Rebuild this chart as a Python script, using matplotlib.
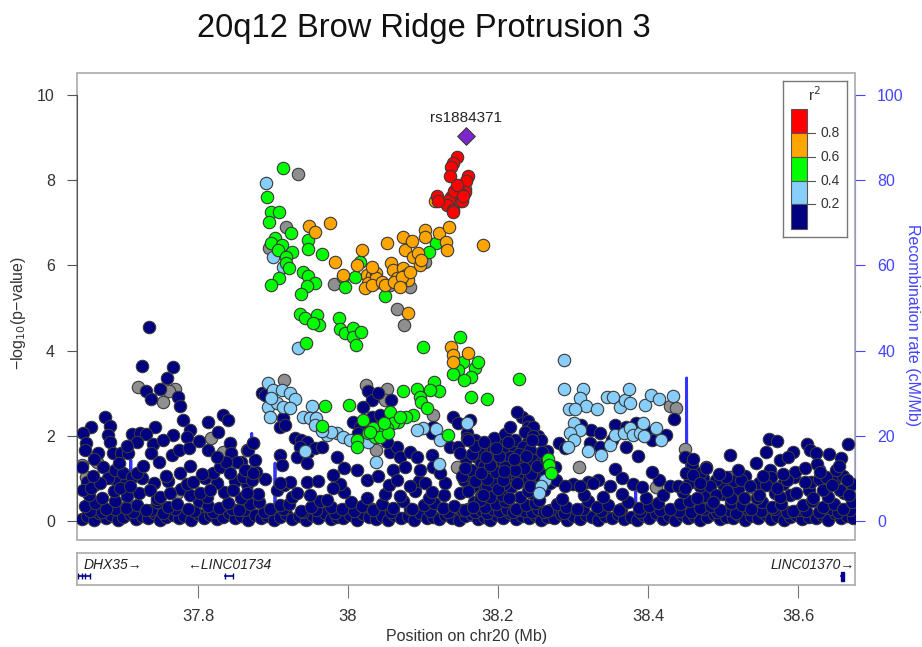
import matplotlib
matplotlib.use('Agg')
import matplotlib.pyplot as plt
from matplotlib.patches import Rectangle
import numpy as np

plt.rcParams['font.family'] = ['Liberation Sans', 'DejaVu Sans']

title = '20q12 Brow Ridge Protrusion 3'
lead_snp = 'rs1884371'
lead_pos, lead_logp = 38.1573, 9.04

# r2 > 0.8
red_pts = [(38.146, 8.54), (38.140, 8.40), (38.138, 8.32), (38.136, 8.10), (38.160, 8.10),
           (38.158, 7.97), (38.156, 7.73), (38.149, 7.71), (38.143, 7.69), (38.138, 7.61),
           (38.135, 7.54), (38.132, 7.42), (38.140, 7.30), (38.152, 7.52), (38.119, 7.63),
           (38.142, 7.75), (38.120, 7.51), (38.140, 7.26), (38.146, 7.88), (38.154, 7.62)]

# 0.6 - 0.8
orange_pts = [(37.948, 6.92), (37.956, 6.79), (37.976, 7.00), (37.983, 6.07), (38.012, 6.01),
              (38.019, 6.36), (37.994, 5.77), (38.025, 5.77), (38.032, 5.75), (38.038, 5.81),
              (38.027, 5.58), (38.023, 5.46), (38.036, 5.58), (38.052, 6.53), (38.058, 6.05),
              (38.060, 5.89), (38.065, 5.70), (38.074, 6.66), (38.076, 6.36), (38.085, 6.58),
              (38.087, 6.20), (38.074, 5.93), (38.078, 5.77), (38.080, 5.66), (38.069, 5.54),
              (38.094, 6.28), (38.096, 6.01), (38.098, 6.13), (38.103, 6.83), (38.103, 6.67),
              (38.122, 6.75), (38.135, 6.91), (38.131, 6.56), (38.132, 6.36), (38.116, 7.50),
              (38.180, 6.48), (38.080, 4.88), (38.038, 5.70), (38.032, 5.54), (38.032, 5.97),
              (38.138, 4.09), (38.140, 3.90), (38.140, 3.74), (38.160, 3.94), (38.045, 5.62),
              (38.050, 5.55), (38.062, 5.60), (38.072, 5.72), (38.083, 5.84), (38.070, 5.50),
              (38.156, 7.80)]

# 0.4 - 0.6
green_pts = [(37.914, 8.28), (37.892, 7.61), (37.898, 7.26), (37.908, 7.26), (37.895, 7.03),
             (37.924, 6.77), (37.903, 6.64), (37.898, 6.52), (37.912, 6.48), (37.907, 6.36),
             (37.926, 6.32), (37.918, 6.20), (37.918, 6.05), (37.922, 5.93), (37.908, 5.70),
             (37.897, 5.54), (37.947, 6.60), (37.947, 6.38), (37.965, 6.27), (37.940, 5.85),
             (37.947, 5.75), (37.956, 5.58), (37.945, 5.52), (37.938, 5.32), (37.994, 5.73),
             (38.009, 5.73), (37.996, 5.50), (38.016, 6.09), (38.049, 5.27), (38.118, 6.52),
             (38.108, 6.32), (37.936, 4.86), (37.943, 4.76), (37.959, 4.84), (37.962, 4.60),
             (37.954, 4.64), (37.988, 4.76), (37.989, 4.50), (37.996, 4.41), (38.007, 4.52),
             (38.007, 4.33), (38.017, 4.44), (38.011, 4.13), (37.944, 4.17), (38.100, 4.09),
             (38.149, 4.31), (38.153, 3.74), (38.147, 3.54), (38.140, 3.45), (38.169, 3.58),
             (38.174, 3.74), (38.164, 3.37), (38.155, 3.31), (38.164, 2.92), (38.186, 2.86),
             (38.115, 3.27), (38.122, 3.06), (38.110, 3.08), (38.074, 3.04), (38.092, 3.09),
             (38.096, 2.92), (38.097, 2.80), (38.106, 2.65), (38.087, 2.49), (38.078, 2.43),
             (38.067, 2.33), (38.056, 2.57), (38.060, 2.31), (38.052, 2.18), (38.043, 2.21),
             (38.034, 2.18), (38.027, 2.06), (38.036, 1.98), (38.043, 1.98), (38.054, 2.06),
             (38.020, 2.37), (38.002, 2.72), (37.969, 2.70), (37.966, 2.23), (38.012, 1.90),
             (38.012, 1.74), (38.134, 2.02), (38.228, 3.33), (38.267, 1.45), (38.268, 1.31),
             (38.271, 1.12), (38.030, 2.10), (38.048, 2.30), (38.070, 2.45)]

# 0.2 - 0.4
lightblue_pts = [(37.891, 7.94), (37.900, 6.19), (37.914, 5.96), (37.934, 4.05), (37.894, 3.23),
                 (37.900, 3.08), (37.912, 3.08), (37.923, 3.00), (37.929, 2.86), (37.894, 2.68),
                 (37.905, 2.76), (37.914, 2.68), (37.923, 2.65), (37.896, 2.45), (37.952, 2.70),
                 (37.940, 2.45), (37.949, 2.41), (37.958, 2.41), (37.956, 2.25), (37.972, 2.02),
                 (37.985, 2.06), (37.994, 1.98), (38.003, 1.90), (38.014, 1.90), (38.027, 1.86),
                 (37.943, 1.65), (38.038, 1.39), (38.100, 2.18), (38.118, 2.15), (38.123, 1.90),
                 (38.122, 1.34), (38.159, 2.31), (38.092, 2.14), (37.978, 2.10), (37.965, 2.12),
                 (37.898, 2.88), (38.288, 3.78), (38.288, 3.09), (38.313, 3.09), (38.309, 2.88),
                 (38.317, 2.70), (38.295, 2.62), (38.303, 2.62), (38.332, 2.62), (38.345, 2.90),
                 (38.353, 2.92), (38.363, 2.67), (38.369, 2.84), (38.375, 3.11), (38.376, 2.76),
                 (38.396, 2.72), (38.404, 2.96), (38.415, 2.86), (38.433, 2.93), (38.301, 2.29),
                 (38.309, 2.14), (38.296, 2.06), (38.302, 1.90), (38.294, 1.74), (38.320, 1.65),
                 (38.338, 1.55), (38.349, 1.78), (38.356, 2.02), (38.368, 2.06), (38.376, 2.18),
                 (38.380, 2.02), (38.389, 2.06), (38.393, 2.29), (38.395, 2.00), (38.411, 2.18),
                 (38.417, 1.90), (38.263, 0.96), (38.258, 0.81), (38.255, 0.66)]

# r2 unknown
gray_pts = [(37.934, 8.15), (37.918, 6.89), (37.895, 6.40), (37.981, 5.56), (38.056, 5.54),
            (38.083, 5.50), (38.103, 6.09), (38.065, 4.97), (38.075, 4.60), (38.149, 7.50),
            (37.915, 3.31), (38.024, 3.19), (38.052, 3.11), (38.049, 2.84), (38.037, 1.67),
            (38.145, 1.27), (38.114, 2.49), (37.720, 3.15), (37.769, 3.11), (37.754, 2.80),
            (37.818, 1.94), (37.834, 1.63), (37.665, 1.39), (37.645, 1.31), (37.772, 0.65),
            (37.651, 1.04), (37.865, 1.67), (38.430, 2.70), (38.438, 2.65), (38.449, 1.68),
            (38.308, 1.27), (38.411, 0.79), (38.256, 1.59), (38.509, 1.04), (38.496, 0.96),
            (38.534, 0.53), (37.762, 3.05), (37.700, 0.30), (37.980, 0.20)]

# r2 < 0.2
navy_pts = [
    # left region
    (37.735, 4.56), (37.725, 3.64), (37.767, 3.62), (37.759, 3.35), (37.731, 3.04),
    (37.750, 3.11), (37.738, 2.86), (37.774, 2.92), (37.776, 2.70), (37.780, 2.37),
    (37.676, 2.45), (37.683, 2.23), (37.657, 2.21), (37.647, 2.06), (37.743, 2.21),
    (37.712, 2.04), (37.723, 2.06), (37.731, 2.04), (37.767, 2.02), (37.789, 2.14),
    (37.785, 1.98), (37.814, 2.33), (37.834, 2.49), (37.840, 2.37), (37.827, 2.10),
    (37.843, 1.82), (37.858, 1.39), (37.874, 1.82), (37.680, 2.02), (37.683, 1.86),
    (37.651, 1.82), (37.649, 1.67), (37.667, 1.59), (37.687, 1.59), (37.698, 1.59),
    (37.707, 1.59), (37.719, 1.86), (37.740, 1.81), (37.753, 1.90), (37.737, 1.59),
    (37.748, 1.39), (37.765, 1.55), (37.775, 1.67), (37.788, 1.71), (37.802, 1.88),
    (37.814, 1.67), (37.844, 1.59), (37.852, 1.39), (37.645, 1.27), (37.674, 1.27),
    (37.680, 1.00), (37.689, 1.20), (37.700, 1.12), (37.712, 1.04), (37.719, 1.13),
    (37.776, 1.12), (37.794, 0.92), (37.820, 1.12), (37.829, 1.27), (37.838, 1.39),
    (37.843, 1.12), (37.860, 1.04), (37.872, 0.96), (37.878, 1.16), (37.647, 0.73),
    (37.658, 0.77), (37.669, 0.89), (37.696, 0.77), (37.709, 0.81), (37.736, 0.73),
    (37.749, 0.57), (37.763, 0.65), (37.803, 0.65), (37.816, 0.73), (37.847, 0.73),
    (37.865, 0.65), (37.727, 1.30), (37.757, 1.05), (37.790, 1.30), (37.805, 1.10),
    (37.662, 1.45), (37.695, 1.35), (37.706, 1.75), (37.660, 1.05), (37.826, 1.50),
    # middle region
    (37.867, 1.67), (37.874, 1.82), (37.876, 1.43), (37.863, 1.20), (37.874, 1.12),
    (37.885, 3.01), (37.889, 2.96), (37.914, 2.41), (37.909, 2.21), (37.916, 2.25),
    (37.929, 1.94), (37.938, 1.90), (37.945, 1.86), (37.936, 1.74), (37.947, 1.63),
    (37.932, 1.51), (37.945, 1.35), (37.909, 1.55), (37.912, 1.31), (37.923, 0.92),
    (37.909, 0.89), (37.932, 0.65), (37.956, 1.71), (37.965, 1.74), (37.985, 1.51),
    (37.980, 1.08), (37.980, 0.77), (38.012, 1.20), (38.027, 3.04), (38.032, 2.84),
    (38.040, 3.00), (38.007, 2.33), (38.016, 2.21), (38.032, 2.45), (38.043, 2.49),
    (38.056, 1.63), (38.065, 1.74), (38.069, 1.51), (38.083, 1.63), (38.092, 1.51),
    (38.076, 1.27), (38.060, 1.20), (38.096, 1.20), (38.112, 1.55), (38.114, 1.27),
    (38.123, 1.12), (38.103, 0.89), (38.065, 0.96), (38.083, 0.81), (38.112, 0.69),
    (38.136, 1.74), (38.140, 2.45), (38.147, 2.29), (38.163, 2.37), (38.159, 2.06),
    (38.159, 1.94), (38.147, 1.74), (38.169, 1.90), (38.185, 1.74), (38.194, 1.67),
    (38.114, 2.21), (38.112, 2.06), (38.172, 1.51), (38.178, 1.35), (38.187, 1.20),
    (38.196, 1.35), (38.176, 1.04), (38.167, 0.81), (38.185, 0.81), (38.196, 0.92),
    (38.176, 0.49), (38.189, 0.57), (38.167, 0.34), (38.014, 2.06), (38.052, 1.86),
    (38.058, 2.84), (38.020, 2.68), (37.995, 1.25), (38.040, 1.05), (37.960, 0.95),
    # dense block 38.15 - 38.27
    (38.152, 1.05), (38.158, 1.45), (38.164, 1.20), (38.170, 0.95), (38.175, 1.62),
    (38.181, 1.30), (38.186, 0.98), (38.192, 1.50), (38.198, 1.15), (38.203, 1.78),
    (38.206, 1.40), (38.212, 1.10), (38.218, 1.70), (38.220, 1.30), (38.226, 1.05),
    (38.230, 1.60), (38.236, 1.35), (38.240, 1.85), (38.244, 1.10), (38.250, 1.55),
    (38.254, 2.00), (38.262, 1.20), (38.266, 1.65), (38.270, 0.90), (38.160, 0.70),
    (38.200, 0.75), (38.240, 0.70), (38.195, 1.95), (38.210, 2.05), (38.150, 1.60),
    (38.232, 2.45), (38.226, 2.55), (38.240, 2.35), (38.240, 2.21), (38.247, 2.21),
    (38.236, 2.10), (38.247, 2.00), (38.258, 1.90), (38.223, 1.90), (38.233, 1.74),
    (38.243, 1.67), (38.207, 1.63), (38.216, 1.51), (38.229, 1.43), (38.247, 1.43),
    (38.209, 1.27), (38.235, 1.24), (38.223, 1.20), (38.258, 1.35), (38.207, 0.96),
    (38.225, 0.89), (38.243, 0.81), (38.180, 0.60), (38.215, 0.55), (38.255, 0.50),
    (38.156, 1.25), (38.166, 1.58), (38.178, 1.12), (38.190, 1.32), (38.201, 1.52),
    (38.214, 1.85), (38.228, 1.58), (38.238, 1.52), (38.252, 1.28), (38.264, 1.45),
    (38.170, 1.75), (38.184, 1.50), (38.197, 1.72), (38.208, 1.18), (38.221, 1.45),
    (38.246, 1.90), (38.259, 1.62), (38.182, 1.85), (38.160, 1.90), (38.216, 2.20),
    # right-middle region
    (38.276, 1.27), (38.282, 1.82), (38.289, 1.71), (38.311, 2.25), (38.324, 2.14),
    (38.336, 2.06), (38.356, 2.25), (38.371, 2.21), (38.323, 1.82), (38.336, 1.74),
    (38.352, 1.90), (38.371, 1.74), (38.387, 1.53), (38.406, 1.90), (38.424, 2.02),
    (38.435, 2.39), (38.405, 1.16), (38.356, 1.21), (38.365, 1.00), (38.334, 0.96),
    (38.327, 0.89), (38.392, 0.79), (38.278, 0.96), (38.289, 0.81), (38.309, 0.81),
    (38.349, 0.81), (38.429, 0.81), (38.440, 0.81), (38.398, 2.12), (38.384, 2.30),
    # right region
    (38.449, 1.51), (38.459, 1.31), (38.469, 1.12), (38.478, 1.27), (38.451, 1.12),
    (38.469, 0.81), (38.491, 0.96), (38.562, 1.92), (38.572, 1.88), (38.612, 1.81),
    (38.667, 1.81), (38.510, 1.55), (38.557, 1.63), (38.593, 1.63), (38.616, 1.67),
    (38.624, 1.60), (38.641, 1.57), (38.657, 1.47), (38.460, 1.45), (38.478, 1.24),
    (38.544, 1.35), (38.576, 1.43), (38.587, 1.50), (38.625, 1.34), (38.563, 1.20),
    (38.596, 1.16), (38.564, 1.04), (38.524, 0.96), (38.504, 1.04), (38.483, 0.81),
    (38.460, 1.08), (38.449, 0.77), (38.536, 0.81), (38.558, 0.85), (38.585, 0.96),
    (38.609, 0.92), (38.638, 1.04), (38.651, 1.20), (38.665, 0.96), (38.633, 0.73),
    (38.656, 0.73), (38.576, 0.57), (38.511, 0.53), (38.491, 0.61), (38.465, 0.55),
    (38.487, 0.45), (38.505, 0.70), (38.528, 0.55), (38.548, 0.62), (38.572, 0.78),
    (38.598, 0.66), (38.620, 0.55), (38.645, 0.85), (38.668, 0.60), (38.655, 1.30),
    (38.630, 1.15), (38.610, 1.25), (38.580, 1.10), (38.553, 1.05), (38.520, 1.20),
    (38.495, 1.10), (38.470, 0.90),
]

# baseline band rows
navy_low_pos = [37.645, 37.652, 37.661, 37.668, 37.677, 37.684, 37.693, 37.700, 37.709, 37.717,
                37.726, 37.733, 37.742, 37.750, 37.758, 37.767, 37.775, 37.782, 37.791, 37.800,
                37.808, 37.816, 37.825, 37.834, 37.842, 37.850, 37.858, 37.867, 37.876, 37.884,
                37.892, 37.901, 37.910, 37.918, 37.926, 37.935, 37.944, 37.952, 37.960, 37.969,
                37.978, 37.986, 37.994, 38.003, 38.012, 38.020, 38.028, 38.037, 38.046, 38.054,
                38.062, 38.071, 38.080, 38.088, 38.096, 38.105, 38.114, 38.122, 38.130, 38.139,
                38.148, 38.156, 38.164, 38.173, 38.182, 38.190, 38.198, 38.207, 38.216, 38.224,
                38.232, 38.241, 38.250, 38.258, 38.266, 38.275, 38.284, 38.292, 38.300, 38.309,
                38.318, 38.326, 38.334, 38.343, 38.352, 38.360, 38.368, 38.377, 38.386, 38.394,
                38.402, 38.411, 38.420, 38.428, 38.436, 38.445, 38.454, 38.462, 38.470, 38.479,
                38.488, 38.496, 38.504, 38.513, 38.522, 38.530, 38.538, 38.547, 38.556, 38.564,
                38.572, 38.581, 38.590, 38.598, 38.606, 38.615, 38.624, 38.632, 38.640, 38.649,
                38.658, 38.666, 38.673]
navy_low_logp = [0.05, 0.12, 0.03, 0.18, 0.08, 0.14, 0.02, 0.10, 0.16, 0.04,
                 0.11, 0.07, 0.19, 0.03, 0.09, 0.15, 0.06, 0.12, 0.02, 0.17,
                 0.08, 0.13, 0.04, 0.10, 0.18, 0.06, 0.11, 0.03, 0.15, 0.07,
                 0.12, 0.02, 0.09, 0.16, 0.05, 0.11, 0.03, 0.14, 0.08, 0.19,
                 0.04, 0.10, 0.06, 0.13, 0.02, 0.17, 0.09, 0.05, 0.12, 0.03,
                 0.15, 0.07, 0.11, 0.02, 0.18, 0.06, 0.10, 0.04, 0.14, 0.08,
                 0.03, 0.12, 0.16, 0.05, 0.09, 0.02, 0.13, 0.07, 0.18, 0.04,
                 0.11, 0.06, 0.15, 0.03, 0.10, 0.08, 0.17, 0.02, 0.12, 0.05,
                 0.14, 0.09, 0.03, 0.11, 0.07, 0.16, 0.04, 0.10, 0.02, 0.13,
                 0.08, 0.18, 0.05, 0.11, 0.03, 0.15, 0.07, 0.12, 0.02, 0.09,
                 0.16, 0.04, 0.10, 0.06, 0.14, 0.03, 0.11, 0.08, 0.17, 0.05,
                 0.12, 0.02, 0.09, 0.15, 0.04, 0.10, 0.07, 0.13, 0.03, 0.18,
                 0.06, 0.11, 0.08]
navy_mid_pos = [37.649, 37.663, 37.678, 37.690, 37.704, 37.719, 37.731, 37.746, 37.760, 37.772,
                37.787, 37.801, 37.813, 37.828, 37.840, 37.855, 37.869, 37.881, 37.896, 37.910,
                37.922, 37.937, 37.951, 37.963, 37.978, 37.992, 38.004, 38.019, 38.033, 38.045,
                38.060, 38.074, 38.086, 38.101, 38.115, 38.127, 38.142, 38.156, 38.168, 38.183,
                38.197, 38.209, 38.224, 38.238, 38.250, 38.265, 38.279, 38.291, 38.306, 38.320,
                38.332, 38.347, 38.361, 38.373, 38.388, 38.402, 38.414, 38.429, 38.443, 38.455,
                38.470, 38.484, 38.496, 38.511, 38.525, 38.537, 38.552, 38.566, 38.578, 38.593,
                38.607, 38.619, 38.634, 38.648, 38.660, 38.672]
navy_mid_logp = [0.35, 0.42, 0.28, 0.46, 0.31, 0.38, 0.25, 0.44, 0.33, 0.40,
                 0.27, 0.48, 0.36, 0.30, 0.43, 0.26, 0.39, 0.45, 0.29, 0.37,
                 0.41, 0.24, 0.34, 0.47, 0.32, 0.28, 0.44, 0.36, 0.25, 0.40,
                 0.31, 0.46, 0.27, 0.38, 0.42, 0.30, 0.35, 0.26, 0.45, 0.33,
                 0.39, 0.48, 0.29, 0.37, 0.43, 0.24, 0.41, 0.34, 0.28, 0.46,
                 0.32, 0.38, 0.25, 0.44, 0.30, 0.36, 0.42, 0.27, 0.40, 0.47,
                 0.31, 0.35, 0.26, 0.43, 0.38, 0.29, 0.45, 0.33, 0.40, 0.24,
                 0.37, 0.48, 0.32, 0.41, 0.28, 0.44]
navy_quarter_pos = [37.656, 37.672, 37.689, 37.713, 37.738, 37.754, 37.770, 37.795, 37.820, 37.846,
                    37.862, 37.888, 37.914, 37.940, 37.957, 37.983, 38.008, 38.032, 38.058, 38.083,
                    38.109, 38.134, 38.152, 38.160, 38.170, 38.178, 38.186, 38.194, 38.202, 38.212,
                    38.220, 38.228, 38.236, 38.246, 38.254, 38.262, 38.270, 38.288, 38.313, 38.338,
                    38.364, 38.390, 38.416, 38.441, 38.458, 38.475, 38.492, 38.508, 38.517, 38.534,
                    38.551, 38.568, 38.585, 38.602, 38.611, 38.628, 38.645, 38.653, 38.670]
navy_quarter_logp = [0.24, 0.20, 0.28, 0.22, 0.26, 0.19, 0.29, 0.23, 0.21, 0.27,
                     0.25, 0.20, 0.28, 0.22, 0.26, 0.19, 0.24, 0.29, 0.21, 0.27,
                     0.23, 0.20, 0.26, 0.28, 0.22, 0.25, 0.19, 0.27, 0.23, 0.29,
                     0.21, 0.26, 0.24, 0.20, 0.28, 0.22, 0.25, 0.19, 0.27, 0.23,
                     0.29, 0.21, 0.26, 0.24, 0.20, 0.28, 0.22, 0.25, 0.19, 0.27,
                     0.23, 0.29, 0.21, 0.26, 0.24, 0.20, 0.28, 0.22, 0.25]
navy_up_pos = [37.655, 37.672, 37.688, 37.705, 37.722, 37.745, 37.778, 37.790, 37.812, 37.835,
               37.858, 37.880, 37.905, 37.925, 37.950, 37.972, 37.995, 38.025, 38.050, 38.070,
               38.090, 38.108, 38.128, 38.150, 38.162, 38.178, 38.192, 38.205, 38.218, 38.230,
               38.245, 38.262, 38.285, 38.315, 38.340, 38.365, 38.398, 38.420, 38.447, 38.475,
               38.500, 38.520, 38.545, 38.570, 38.590, 38.615, 38.640, 38.662]
navy_up_logp = [0.62, 0.55, 0.70, 0.58, 0.66, 0.52, 0.74, 0.60, 0.56, 0.68,
                0.53, 0.64, 0.72, 0.57, 0.61, 0.50, 0.67, 0.55, 0.63, 0.58,
                0.71, 0.54, 0.60, 0.66, 0.76, 0.58, 0.69, 0.62, 0.80, 0.56,
                0.65, 0.73, 0.52, 0.60, 0.57, 0.64, 0.55, 0.62, 0.68, 0.58,
                0.63, 0.75, 0.54, 0.66, 0.60, 0.72, 0.57, 0.65]
navy_high_pos = [37.652, 37.662, 37.690, 37.703, 37.725, 37.742, 37.760, 37.785, 37.810, 37.826,
                 37.850, 37.866, 37.890, 37.915, 37.945, 37.990, 38.025, 38.055, 38.095, 38.130,
                 38.155, 38.163, 38.172, 38.181, 38.190, 38.199, 38.208, 38.217, 38.228, 38.237,
                 38.248, 38.256, 38.265, 38.300, 38.320, 38.380, 38.415, 38.455, 38.474, 38.500,
                 38.515, 38.530, 38.548, 38.563, 38.580, 38.595, 38.618, 38.628, 38.648, 38.660,
                 38.672]
navy_high_logp = [0.92, 0.85, 0.98, 0.88, 1.02, 0.90, 0.95, 0.86, 1.00, 0.89,
                  0.94, 0.87, 0.99, 0.84, 0.91, 0.88, 0.96, 0.85, 0.93, 0.90,
                  0.97, 1.08, 0.86, 1.05, 0.92, 1.00, 0.88, 1.06, 0.94, 1.02,
                  0.89, 1.04, 0.95, 0.86, 0.92, 0.88, 0.97, 0.90, 1.02, 0.87,
                  0.95, 1.05, 0.89, 0.99, 0.86, 1.03, 0.91, 0.98, 0.94, 1.06,
                  0.88]

# recombination rate (cM/Mb)
recomb_pos = [37.639, 37.700, 37.7100, 37.7105, 37.7110, 37.750, 37.8712, 37.8717, 37.8722,
              37.900, 37.9022, 37.9027, 37.9032, 38.000, 38.100, 38.2962, 38.2967, 38.2972,
              38.3832, 38.3837, 38.3842, 38.4510, 38.4515, 38.4520, 38.550, 38.6342, 38.6347,
              38.6352, 38.676]
recomb_rate = [0.4, 0.2, 0.3, 14.3, 0.3, 0.2, 0.2, 20.6, 0.3, 0.2, 0.3, 13.6, 0.3, 0.1, 0.1,
               0.2, 2.6, 0.2, 0.2, 6.9, 0.2, 0.3, 33.6, 0.3, 0.2, 0.3, 12.7, 0.3, 0.2]

# genes
gene_names = ['DHX35\u2192', '\u2190LINC01734', 'LINC01370\u2192']
gene_start = [37.640, 37.836, 38.657]
gene_end = [37.656, 37.847, 38.662]
gene_label_x = [37.647, 37.786, 38.676]

r2_colors = ['#FF0000', '#FFA500', '#00FF00', '#87CEFA', '#000080']
r2_ticks = ['0.8', '0.6', '0.4', '0.2']

W, H = 922, 647
fig = plt.figure(figsize=(W / 100, H / 100), dpi=100)


def fx(px):
    return px / W


def fy(py):
    return 1 - py / H


xmin, xmax = 37.6387, 38.676
ax = fig.add_axes([fx(77), fy(540), fx(855) - fx(77), fy(73) - fy(540)])
ax.set_xlim(xmin, xmax)
ax.set_ylim(-0.446, 10.516)
ax2 = ax.twinx()
ax2.set_ylim(-4.46, 105.16)
ax.set_zorder(ax2.get_zorder() + 1)
ax.patch.set_visible(False)

ax2.plot(recomb_pos, recomb_rate, color='#3333FF', lw=2.0, zorder=1)

edge = '#3A3A3A'
ms = 80


def scat(xs, ys, color, z):
    ax.scatter(xs, ys, s=ms, c=color, edgecolors=edge, linewidths=0.8, zorder=z)


def scat_pts(pts, color, z):
    scat([p[0] for p in pts], [p[1] for p in pts], color, z)


scat_pts(gray_pts, '#8F8F8F', 2)
scat(navy_low_pos, navy_low_logp, '#000080', 3)
scat(navy_quarter_pos, navy_quarter_logp, '#000080', 3)
scat(navy_mid_pos, navy_mid_logp, '#000080', 3)
scat(navy_up_pos, navy_up_logp, '#000080', 3)
scat(navy_high_pos, navy_high_logp, '#000080', 3)
scat_pts(navy_pts, '#000080', 3)
scat_pts(lightblue_pts, '#87CEFA', 4)
scat_pts(green_pts, '#00FF00', 5)
scat_pts(orange_pts, '#FFA500', 6)
scat_pts(red_pts, '#FF0000', 7)
ax.scatter([lead_pos], [lead_logp], s=80, marker='D', c='#7D26CD', edgecolors=edge,
           linewidths=0.8, zorder=8)
ax.text(lead_pos, 9.46, lead_snp, ha='center', va='center', fontsize=11, color='#222222')

# frame + axes
for s in ['top', 'bottom', 'right']:
    ax.spines[s].set_visible(False)
    ax2.spines[s].set_visible(False)
ax2.spines['left'].set_visible(False)
ax.spines['left'].set_bounds(0, 10)
ax.spines['left'].set_color('#555555')
ax2.spines['right'].set_visible(True)
ax2.spines['right'].set_bounds(0, 100)
ax2.spines['right'].set_color('#4444FF')
ax.add_patch(Rectangle((0, 0), 1, 1, transform=ax.transAxes, fill=False,
                       ec='#AAAAAA', lw=1.2, clip_on=False, zorder=0))
ax.set_xticks([])
ax.set_yticks([0, 2, 4, 6, 8, 10])
ax.tick_params(axis='y', length=7, width=0.8, color='#555555', labelcolor='#333333',
               labelsize=11.5, pad=9)
ax2.set_yticks([0, 20, 40, 60, 80, 100])
ax2.tick_params(axis='y', length=7, width=0.8, color='#4444FF', labelcolor='#4444FF',
                labelsize=11.5, pad=9)

fig.text(fx(18), fy(313), '\u2212log$_{10}$(p\u2212value)', rotation=90,
         ha='center', va='center', fontsize=11.5, color='#333333')
fig.text(fx(912), fy(325), 'Recombination rate (cM/Mb)', rotation=270,
         ha='center', va='center', fontsize=11.5, color='#4444FF')
fig.text(fx(424), fy(28), title, ha='center', va='center', fontsize=23.5, color='#111111')

# r2 legend
lax = fig.add_axes([fx(783), fy(237), fx(847) - fx(783), fy(81) - fy(237)])
lax.set_xlim(783, 847)
lax.set_ylim(237, 81)
lax.set_xticks([])
lax.set_yticks([])
for s in lax.spines.values():
    s.set_color('#777777')
    s.set_linewidth(1.0)
edges_y = [109, 133.3, 156.7, 181, 204.3, 229]
for i, col in enumerate(r2_colors):
    lax.add_patch(Rectangle((791, edges_y[i]), 16, edges_y[i + 1] - edges_y[i],
                            fc=col, ec='#555555', lw=0.8))
for i, lab in enumerate(r2_ticks):
    yv = edges_y[i + 1]
    lax.plot([807, 815], [yv, yv], color='#555555', lw=0.8)
    lax.text(820, yv, lab, ha='left', va='center', fontsize=10, color='#333333')
lax.text(814, 95, 'r$^2$', ha='center', va='center', fontsize=11, color='#333333')

# gene panel
gax = fig.add_axes([fx(77), fy(585), fx(855) - fx(77), fy(553) - fy(585)])
gax.set_xlim(xmin, xmax)
gax.set_ylim(0, 1)
gax.set_yticks([])
for s in gax.spines.values():
    s.set_color('#AAAAAA')
    s.set_linewidth(1.2)
for i, name in enumerate(gene_names):
    ha = 'right' if i == 2 else 'left'
    gax.text(gene_label_x[i], 0.62, name, ha=ha, va='center', fontsize=10,
             style='italic', color='#222222')
    gax.plot([gene_start[i], gene_end[i]], [0.28, 0.28], color='#00008B', lw=1.2)
gax.vlines([37.640, 37.645, 37.650, 37.656], 0.18, 0.38, color='#00008B', lw=1)
gax.vlines([37.836, 37.847], 0.18, 0.38, color='#00008B', lw=1)
gax.add_patch(Rectangle((38.6575, 0.14), 0.004, 0.28, fc='#00008B', ec='#00008B'))
gax.set_xticks([37.8, 38.0, 38.2, 38.4, 38.6])
gax.set_xticklabels(['37.8', '38', '38.2', '38.4', '38.6'])
gax.tick_params(axis='x', length=9, width=0.8, color='#777777', labelcolor='#333333',
                labelsize=12, pad=8)
fig.text(fx(467), fy(636), 'Position on chr20 (Mb)', ha='center', va='center',
         fontsize=11.5, color='#333333')

fig.savefig('out.png', dpi=100)
